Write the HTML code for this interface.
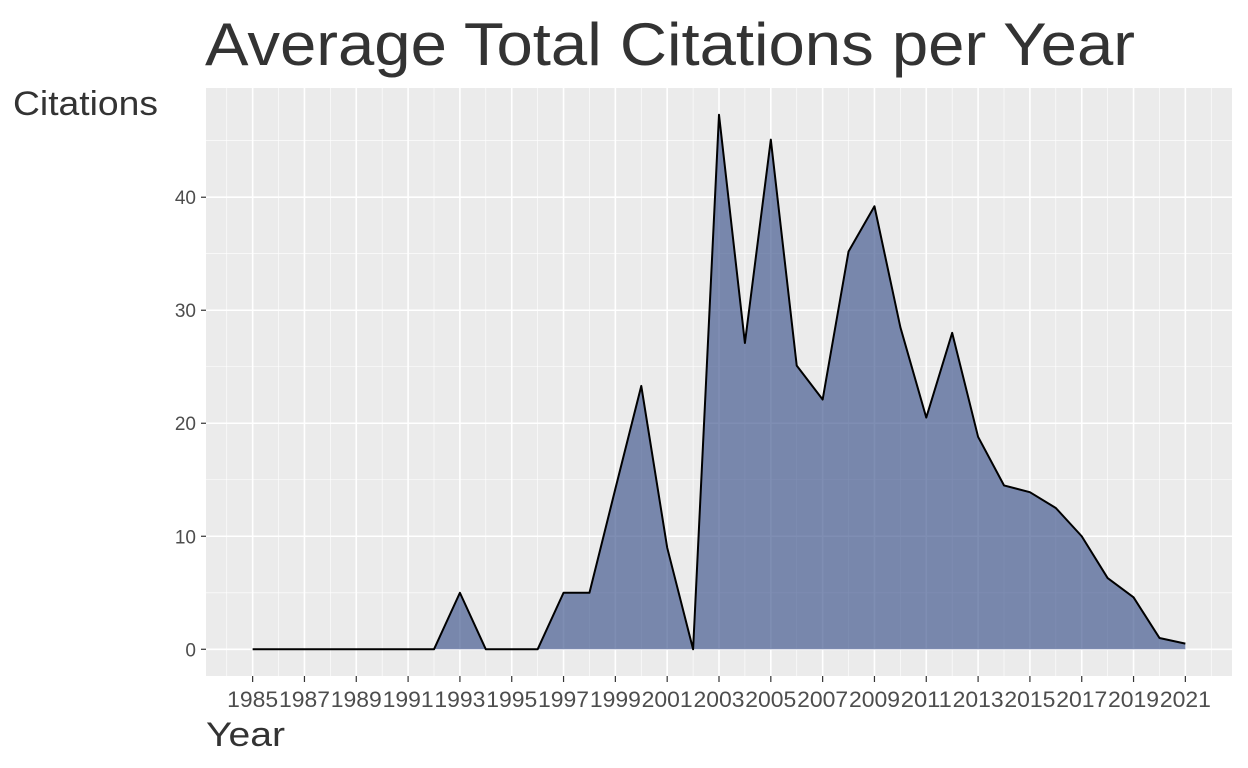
<!DOCTYPE html>
<html><head><meta charset="utf-8"><style>
body{margin:0;background:#fff;}
svg{display:block;font-family:"Liberation Sans",Arial,sans-serif;}
</style></head><body>
<svg id="chart" width="1248" height="768">
<rect x="206" y="88" width="1026" height="588" fill="#ebebeb"/>
<g id="grid"></g>
<g id="marks"></g>
<g id="axes"></g>
<text x="205" y="65" font-size="60" fill="#333" textLength="930" lengthAdjust="spacingAndGlyphs">Average Total Citations per Year</text>
<text x="13" y="115" font-size="34" fill="#333" textLength="145" lengthAdjust="spacingAndGlyphs">Citations</text>
<text x="206" y="746" font-size="34" fill="#333" textLength="79" lengthAdjust="spacingAndGlyphs">Year</text>
</svg>
<script>
const years=[1985,1986,1987,1988,1989,1990,1991,1992,1993,1994,1995,1996,1997,1998,1999,2000,2001,2002,2003,2004,2005,2006,2007,2008,2009,2010,2011,2012,2013,2014,2015,2016,2017,2018,2019,2020,2021];
const citations=[0,0,0,0,0,0,0,0,5,0,0,0,5,5,14.2,23.3,9,0,47.3,27.1,45.1,25.1,22.1,35.2,39.2,28.5,20.5,28,18.8,14.5,13.9,12.5,10,6.3,4.6,1,0.5];
const yTicks=[0,10,20,30,40];
const xTicks=[1985,1987,1989,1991,1993,1995,1997,1999,2001,2003,2005,2007,2009,2011,2013,2015,2017,2019,2021];
const NS='http://www.w3.org/2000/svg';
const x0=206,x1=1232,y0=88,y1=676;
const xmin=1985-1.8,xmax=2021+1.8,ymax=Math.max(...citations),ylo=-ymax*0.05,yhi=ymax*1.05;
const X=v=>x0+(v-xmin)/(xmax-xmin)*(x1-x0);
const Y=v=>y1-(v-ylo)/(yhi-ylo)*(y1-y0);
function mk(t,a,p){const e=document.createElementNS(NS,t);for(const k in a)e.setAttribute(k,a[k]);p.appendChild(e);return e;}
const grid=document.getElementById('grid'),axes=document.getElementById('axes'),marks=document.getElementById('marks');
for(let i=0;i<yTicks.length;i++){
  const m=yTicks[i]+5;
  if(Y(m)>y0){const l=mk('line',{x1:x0,x2:x1,y1:Y(m),y2:Y(m),stroke:'#fff','stroke-width':0.6},grid);}
  const g=mk('line',{x1:x0,x2:x1,y1:Y(yTicks[i]),y2:Y(yTicks[i]),stroke:'#fff','stroke-width':1.6},grid);
  
  mk('line',{x1:x0-5,x2:x0,y1:Y(yTicks[i]),y2:Y(yTicks[i]),stroke:'#333','stroke-width':1.2},axes);
  const t=mk('text',{x:x0-10,y:Y(yTicks[i])+7,'text-anchor':'end','font-size':19,fill:'#4d4d4d'},axes);
  t.textContent=yTicks[i];
  
}
for(let i=0;i<xTicks.length;i++){
  const xv=X(xTicks[i]);
  for(const m of [xTicks[i]-1,xTicks[i]+1]){if(m>xmin&&m<xmax&&(m===xTicks[i]-1||i===xTicks.length-1)){const l=mk('line',{x1:X(m),x2:X(m),y1:y0,y2:y1,stroke:'#fff','stroke-width':0.6},grid);}}
  const g=mk('line',{x1:xv,x2:xv,y1:y0,y2:y1,stroke:'#fff','stroke-width':1.6},grid);
  
  mk('line',{x1:xv,x2:xv,y1:y1,y2:y1+6,stroke:'#333','stroke-width':1.2},axes);
  const t=mk('text',{x:xv-25.5,y:y1+31,'font-size':22,fill:'#4d4d4d',textLength:51,lengthAdjust:'spacingAndGlyphs'},axes);
  t.textContent=xTicks[i];
  
}
let pts=years.map((yr,i)=>X(yr)+','+Y(citations[i]));
const area=mk('polygon',{points:X(years[0])+','+Y(0)+' '+pts.join(' ')+' '+X(years[years.length-1])+','+Y(0),fill:'#3b528b','fill-opacity':0.65},marks);

const line=mk('polyline',{points:pts.join(' '),fill:'none',stroke:'#000','stroke-width':2,'stroke-linejoin':'round'},marks);

</script>
</body></html>
